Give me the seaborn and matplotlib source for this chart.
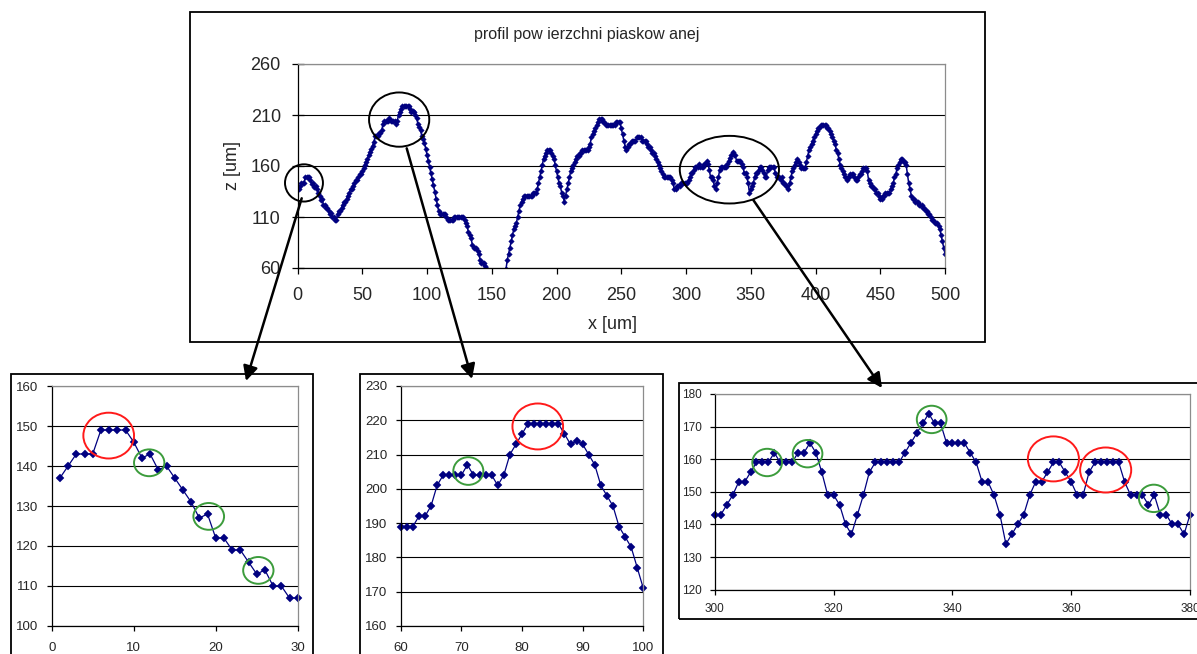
import numpy as np
import pandas as pd
import matplotlib
matplotlib.use("Agg")
import matplotlib.pyplot as plt
import seaborn as sns
from matplotlib.patches import Ellipse, Rectangle, FancyArrowPatch

# Surface height z [um] along the measured profile, one sample per 1 um (x = 1 ... 500)
z_001_030 = [137, 140, 143, 143, 143, 149, 149, 149, 149, 146, 142, 143, 139, 140, 137,
             134, 131, 127, 128, 122, 122, 119, 119, 116, 113, 114, 110, 110, 107, 107]
z_031_059 = [113, 116, 116, 119, 122, 125, 125, 128, 131, 134, 137, 137, 140, 143, 146,
             146, 149, 152, 152, 155, 158, 161, 164, 167, 171, 174, 177, 180, 184]
z_060_100 = [189, 189, 189, 192, 192, 195, 201, 204, 204, 204, 204, 207, 204, 204, 204,
             204, 201, 204, 210, 213, 216, 219, 219, 219, 219, 219, 219, 216, 213, 214,
             213, 210, 207, 201, 198, 195, 189, 186, 183, 177, 171]
z_101_150 = [165, 159, 153, 147, 141, 135, 128, 122, 116, 113, 113, 113, 113, 113, 110,
             107, 107, 107, 107, 107, 110, 110, 110, 110, 110, 110, 110, 110, 107, 104,
             101, 95, 92, 89, 83, 80, 80, 80, 77, 74, 68, 65, 65, 65, 62,
             59, 56, 53, 50, 50]
z_151_200 = [47, 47, 47, 50, 50, 50, 47, 50, 50, 53, 59, 68, 74, 80, 86,
             92, 98, 101, 104, 110, 116, 122, 125, 128, 131, 131, 131, 131, 131, 131,
             131, 134, 134, 134, 137, 143, 149, 155, 161, 167, 170, 173, 176, 176, 176,
             173, 170, 167, 161, 155]
z_201_250 = [149, 143, 140, 134, 131, 125, 131, 137, 143, 149, 155, 158, 161, 164, 167,
             170, 170, 173, 173, 176, 176, 176, 176, 176, 179, 182, 188, 191, 194, 197,
             200, 203, 206, 206, 206, 203, 203, 200, 200, 200, 200, 200, 200, 200, 200,
             203, 203, 203, 203, 197]
z_251_299 = [191, 185, 179, 176, 179, 182, 182, 185, 185, 185, 185, 188, 188, 188, 188,
             185, 185, 185, 185, 182, 179, 179, 176, 173, 173, 170, 167, 164, 161, 158,
             155, 152, 149, 149, 149, 149, 149, 149, 146, 143, 137, 137, 140, 140, 140,
             143, 143, 143, 143]
z_300_380 = [143, 143, 146, 149, 153, 153, 156, 159, 159, 159, 162, 159, 159, 159, 162,
             162, 165, 162, 156, 149, 149, 146, 140, 137, 143, 149, 156, 159, 159, 159,
             159, 159, 162, 165, 168, 171, 174, 171, 171, 165, 165, 165, 165, 162, 159,
             153, 153, 149, 143, 134, 137, 140, 143, 149, 153, 153, 156, 159, 159, 156,
             153, 149, 149, 156, 159, 159, 159, 159, 159, 153, 149, 149, 149, 146, 149,
             143, 143, 140, 140, 137, 143]
z_381_440 = [149, 155, 158, 161, 164, 167, 164, 161, 158, 158, 158, 158, 164, 170, 176,
             179, 182, 185, 188, 191, 194, 197, 197, 200, 200, 200, 200, 200, 197, 197,
             194, 191, 188, 185, 182, 176, 173, 167, 161, 158, 155, 152, 149, 146, 149,
             149, 152, 152, 152, 149, 146, 146, 149, 152, 152, 155, 158, 158, 158, 155]
z_441_500 = [146, 143, 140, 140, 137, 137, 134, 134, 131, 128, 128, 131, 131, 134, 134,
             134, 134, 137, 140, 143, 149, 152, 158, 161, 164, 167, 167, 164, 164, 161,
             152, 143, 137, 131, 128, 128, 125, 125, 125, 122, 122, 122, 119, 119, 116,
             116, 113, 113, 110, 107, 107, 104, 104, 104, 101, 98, 92, 86, 80, 74]

z_um = np.concatenate([z_001_030, z_031_059, z_060_100, z_101_150, z_151_200,
                       z_201_250, z_251_299, z_300_380, z_381_440, z_441_500])
x_um = np.arange(1, len(z_um) + 1)
profile = pd.DataFrame({"x": x_um, "z": z_um})

# Texts
title_text = "profil pow ierzchni piaskow anej"
x_label = "x [um]"
z_label = "z [um]"

# Axis ranges and ticks: overview and the three detail views
main_xticks = list(range(0, 501, 50))
main_yticks = list(range(60, 261, 50))
detail_xranges = [(0, 30), (60, 100), (300, 380)]
detail_yranges = [(100, 160), (160, 230), (120, 180)]
detail_xsteps = [10, 10, 20]

NAVY = "#000080"
RED = "#ff1a1a"
GREEN = "#3c9c3c"
W, H = 1197, 654

sns.set_theme(style="white")
plt.rcParams["font.family"] = ["Liberation Sans", "DejaVu Sans"]

fig = plt.figure(figsize=(W / 100, H / 100), dpi=100)
fig.patch.set_facecolor("white")


def fig_box(left, top, right, bottom):
    return [left / W, 1 - bottom / H, (right - left) / W, (bottom - top) / H]


def frame(left, top, right, bottom):
    fig.add_artist(Rectangle((left / W, 1 - bottom / H), (right - left) / W,
                             (bottom - top) / H, transform=fig.transFigure,
                             fill=False, ec="black", lw=1.3, zorder=0))


def style(ax, xlim, ylim, xticks, yticks, fs, ytick_dir, ytick_len, xtick_len, pad):
    ax.set_xlim(*xlim)
    ax.set_ylim(*ylim)
    ax.set_xticks(xticks)
    ax.set_yticks(yticks)
    ax.set_facecolor("none")
    ax.grid(axis="y", color="black", lw=0.8)
    ax.grid(axis="x", visible=False)
    ax.set_axisbelow(True)
    for s in ("top", "right"):
        ax.spines[s].set_color("#8c8c8c")
        ax.spines[s].set_linewidth(0.9)
    for s in ("left", "bottom"):
        ax.spines[s].set_color("black")
        ax.spines[s].set_linewidth(0.9)
    ax.tick_params(axis="y", which="major", left=True, direction=ytick_dir,
                   length=ytick_len, width=0.9, color="black", labelsize=fs, pad=pad)
    ax.tick_params(axis="x", which="major", bottom=True, direction="out",
                   length=xtick_len, width=0.9, color="black", labelsize=fs, pad=pad)
    ax.set_xlabel("")
    ax.set_ylabel("")


def ring(ax, cx, cy, w, h, color):
    ax.add_patch(Ellipse((cx, cy), w, h, fill=False, ec=color, lw=1.4,
                         clip_on=False, zorder=5))


# Outer chart frames
frame(189.5, 12.3, 984.7, 341.7)
frame(11, 374, 313, 662)
frame(360, 374, 662.7, 662)
frame(679, 382.5, 1205, 619.3)

# Overview chart
ax = fig.add_axes(fig_box(297.5, 64, 945, 268))
sns.lineplot(data=profile, x="x", y="z", ax=ax, color=NAVY, linewidth=1.1,
             marker="D", markersize=2.8, markeredgecolor=NAVY, markeredgewidth=0.3,
             estimator=None, sort=False)
style(ax, (0, 500), (60, 260), main_xticks, main_yticks, 13, "inout", 8, 4, 8)
ax.tick_params(axis="x", pad=10)
ax.set_xlabel(x_label, fontsize=13)
ax.set_ylabel(z_label, fontsize=13)
ax.xaxis.set_label_coords(0.486, -0.235)
ax.yaxis.set_label_coords(-0.088, 0.5)
ring(ax, 5.0, 143.4, 29.3, 36.5, "black")
ring(ax, 78.5, 205.5, 46.5, 53.2, "black")
ring(ax, 333.5, 156.4, 76.6, 66.3, "black")
fig.text(587 / W, 1 - 39.5 / H, title_text, ha="center", va="baseline", fontsize=11.5)

# Detail views
detail_boxes = [(51.7, 386, 297.7, 626), (400.7, 386, 643.3, 626), (714.9, 394, 1190, 589.7)]
detail_fs = [9.5, 9.5, 8.5]
details = []
for box, xr, yr, step, fs in zip(detail_boxes, detail_xranges, detail_yranges,
                                 detail_xsteps, detail_fs):
    dax = fig.add_axes(fig_box(*box))
    sns.lineplot(data=profile, x="x", y="z", ax=dax, color=NAVY, linewidth=0.9,
                 estimator=None, sort=False)
    inside = profile[(profile["x"] >= xr[0]) & (profile["x"] <= xr[1])]
    sns.lineplot(data=inside, x="x", y="z", ax=dax, color=NAVY, linewidth=0,
                 marker="D", markersize=3.6, markeredgecolor=NAVY, markeredgewidth=0.3,
                 estimator=None, sort=False, clip_on=False)
    style(dax, xr, yr, list(range(xr[0], xr[1] + 1, step)),
          list(range(yr[0], yr[1] + 1, 10)), fs, "out", 3.5, 3.5, 6)
    details.append(dax)

ax1, ax2, ax3 = details
ax1.tick_params(axis="x", pad=8)
ax2.tick_params(axis="x", pad=8)
ring(ax1, 6.95, 147.6, 6.18, 11.45, RED)
ring(ax1, 11.89, 140.8, 3.7, 6.7, GREEN)
ring(ax1, 19.15, 127.4, 3.74, 6.7, GREEN)
ring(ax1, 25.2, 113.9, 3.7, 6.7, GREEN)

ring(ax2, 71.15, 205.2, 4.95, 8.07, GREEN)
ring(ax2, 82.6, 218.2, 8.35, 13.4, RED)

ring(ax3, 308.8, 159.0, 5.0, 8.4, GREEN)
ring(ax3, 315.6, 161.7, 5.0, 8.4, GREEN)
ring(ax3, 336.5, 172.2, 5.0, 8.4, GREEN)
ring(ax3, 357.0, 160.1, 8.6, 13.8, RED)
ring(ax3, 365.8, 156.7, 8.6, 13.8, RED)
ring(ax3, 373.9, 148.0, 5.0, 8.4, GREEN)

# Arrows from the marked regions to their detail views
for (x0, y0), (x1, y1) in [((301.7, 198.3), (246, 381)),
                           ((406.7, 148.3), (472, 379)),
                           ((753.3, 200), (882, 388))]:
    fig.add_artist(FancyArrowPatch((x0 / W, 1 - y0 / H), (x1 / W, 1 - y1 / H),
                                   transform=fig.transFigure, arrowstyle="-|>",
                                   mutation_scale=22, lw=1.8, color="black",
                                   shrinkA=0, shrinkB=0, zorder=10))

fig.savefig("out.png", dpi=100, facecolor="white")
